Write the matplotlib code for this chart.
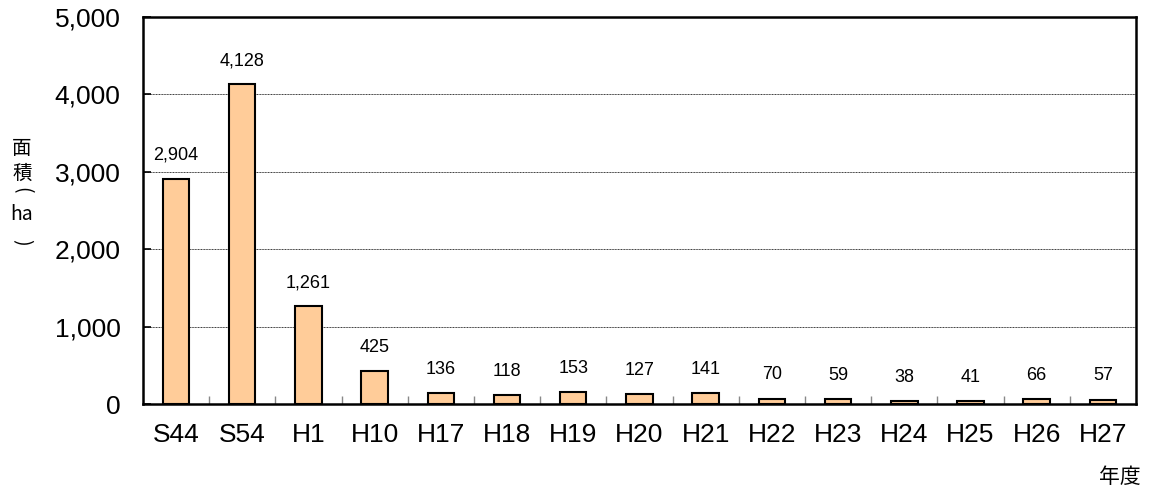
import matplotlib.pyplot as plt
import numpy as np
from matplotlib.ticker import FuncFormatter

plt.rcParams['font.family'] = ['Liberation Sans', 'Noto Sans CJK JP', 'DejaVu Sans']

# データ
years = ['S44', 'S54', 'H1', 'H10', 'H17', 'H18', 'H19', 'H20', 'H21',
         'H22', 'H23', 'H24', 'H25', 'H26', 'H27']
area = [2904, 4128, 1261, 425, 136, 118, 153, 127, 141, 70, 59, 38, 41, 66, 57]

fig = plt.figure(figsize=(11.5, 4.88), dpi=100, facecolor='white')
ax = fig.add_axes([0.1243, 0.1721, 0.8635, 0.7931])

x = np.arange(len(years))
ax.bar(x, area, width=0.4, color='#FFCC99', edgecolor='black', linewidth=1.5, zorder=3)

for xi, v in zip(x, area):
    ax.annotate(f'{v:,}', (xi, v), xytext=(0, 11), textcoords='offset points',
                ha='center', va='bottom', fontsize=13, zorder=4)

ax.set_xlim(-0.5, len(years) - 0.5)
ax.set_ylim(0, 5000)
ax.set_yticks(np.arange(0, 5001, 1000))
ax.yaxis.set_major_formatter(FuncFormatter(lambda v, p: f'{int(v):,}'))
ax.yaxis.grid(True, linestyle=(0, (1, 0.6)), color='#333333', linewidth=0.7, zorder=1)

ax.set_xticks(x)
ax.set_xticklabels(years, fontsize=19)
ax.set_xticks(np.arange(0.5, len(years) - 1, 1), minor=True)
ax.tick_params(axis='x', which='major', length=0, pad=14)
ax.tick_params(axis='x', which='minor', direction='in', length=6, color='#888888', width=1)
ax.tick_params(axis='y', direction='in', length=6, width=1.2, labelsize=19, pad=16)

for s in ax.spines.values():
    s.set_linewidth(1.8)
    s.set_color('black')

# 縦書きの軸ラベル（括弧は回転させて縦書き風に）
cjk = ['Noto Sans CJK JP', 'DejaVu Sans']
ylab = [('面', 149, 0), ('積', 173, 0), ('(', 190, -90), ('ha', 214, 0), (')', 242, -90)]
for ch, py, rot in ylab:
    fig.text(0.019, 1 - py / 488, ch, ha='center', va='center', fontsize=14,
             rotation=rot, family=cjk)
fig.text(0.974, 0.0225, '年度', ha='center', va='center', fontsize=15, family=cjk)

plt.savefig('out.png', dpi=100, facecolor='white')
